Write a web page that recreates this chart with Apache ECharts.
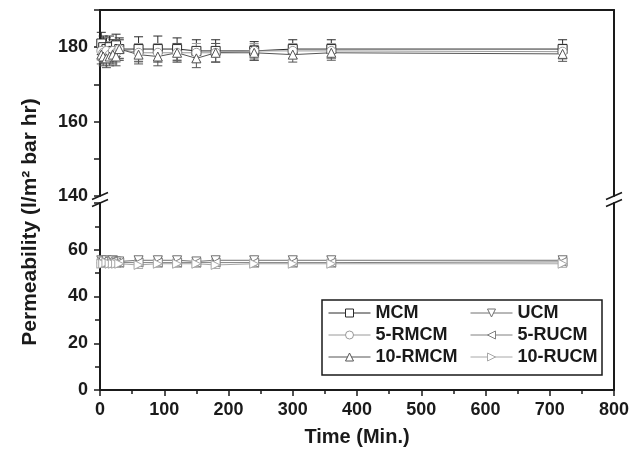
<!DOCTYPE html>
<html>
<head>
<meta charset="utf-8">
<script src="https://cdn.jsdelivr.net/npm/echarts@6/dist/echarts.min.js"></script>
<style>html,body{margin:0;padding:0;background:#fff}#c{width:643px;height:452px}</style>
</head>
<body>
<div id="c"></div>
<script>
// ---- data ----
const times = [2, 5, 10, 15, 20, 25, 30, 60, 90, 120, 150, 180, 240, 300, 360, 720];

const MCM      = [181, 180, 179.5, 180, 179, 180.5, 179.5, 179.5, 179.5, 179.5, 179, 179, 179, 179.5, 179.5, 179.5];
const RMCM5    = [179, 178.5, 179, 178, 179, 178.5, 179.5, 178.5, 178.5, 178.5, 178.5, 178.5, 179, 179, 179, 178.8];
const RMCM10   = [178, 177.5, 177, 177.5, 178, 177.5, 179.5, 178, 177.5, 178.5, 177, 178.5, 178.5, 178, 178.5, 178.2];
const MCM_err    = [3, 3, 3, 3, 3, 3, 3, 3.3, 3.5, 3, 3, 3, 2.5, 2.5, 2.5, 2.5];
const RMCM5_err  = [2.5, 2.5, 2.5, 2.5, 2.5, 2.5, 2.5, 2.5, 2.5, 2.5, 2.5, 2.5, 2, 2, 2, 2];
const RMCM10_err = [2.5, 2.5, 2.5, 2.5, 2.5, 2.5, 2.5, 2.5, 2.5, 2.5, 2.5, 2.5, 2, 2, 2, 2];

const UCM      = [55.5, 55, 55.5, 55, 55.5, 55, 55, 55.5, 55.5, 55.5, 55, 55.5, 55.5, 55.5, 55.5, 55.5];
const RUCM5    = [54.5, 55, 54.5, 54.5, 55, 54.5, 54.5, 54.5, 54.5, 54.5, 54.5, 54.5, 54.5, 54.5, 54.5, 54.8];
const RUCM10   = [54, 54, 54.5, 54, 54, 54, 54, 53.5, 54, 54, 54, 53.5, 54, 54, 54, 54];
const UCM_err    = [1.5, 1.5, 1.5, 1.5, 1.5, 1.5, 1.5, 1.5, 1.5, 1.5, 1.5, 1.5, 1.5, 1.5, 1.5, 1.5];
const RUCM5_err  = [1.5, 1.5, 1.5, 1.5, 1.5, 1.5, 1.5, 1.5, 1.5, 1.5, 1.5, 1.5, 1.5, 1.5, 1.5, 1.5];
const RUCM10_err = [1.5, 1.5, 1.5, 1.5, 1.5, 1.5, 1.5, 1.5, 1.5, 1.5, 1.5, 1.5, 1.5, 1.5, 1.5, 1.5];

const xTicks = [0, 100, 200, 300, 400, 500, 600, 700, 800];
const yTicksUpper = [140, 160, 180];
const yTicksLower = [0, 20, 40, 60];

// ---- styling ----
const FONT = '"Liberation Sans", Arial, sans-serif';
const AX = '#1a1a1a';
const DOWN = 'path://M0,0 L10,0 L5,9 Z';
const LEFT = 'path://M9,0 L9,10 L0,5 Z';
const RIGHT = 'path://M0,0 L0,10 L9,5 Z';

const defs = [
  {name: 'MCM',     vals: MCM,    err: MCM_err,    sym: 'rect',     col: '#2a2a2a', g: 0},
  {name: '5-RMCM',  vals: RMCM5,  err: RMCM5_err,  sym: 'circle',   col: '#9a9a9a', g: 0},
  {name: '10-RMCM', vals: RMCM10, err: RMCM10_err, sym: 'triangle', col: '#555555', g: 0},
  {name: 'UCM',     vals: UCM,    err: UCM_err,    sym: DOWN,       col: '#707070', g: 1},
  {name: '5-RUCM',  vals: RUCM5,  err: RUCM5_err,  sym: LEFT,       col: '#808080', g: 1},
  {name: '10-RUCM', vals: RUCM10, err: RUCM10_err, sym: RIGHT,      col: '#a8a8a8', g: 1}
];

const series = [];
defs.forEach(d => {
  const col = d.col;
  series.push({
    type: 'custom', name: d.name + '_err', silent: true,
    xAxisIndex: d.g === 0 ? 0 : 1, yAxisIndex: d.g === 0 ? 0 : 2, z: 1,
    data: times.map((t, i) => [t, d.vals[i], d.err[i]]),
    renderItem: function (params, api) {
      const x = api.value(0), y = api.value(1), e = api.value(2);
      const hi = api.coord([x, y + e]);
      const lo = api.coord([x, y - e]);
      const w = 4.5;
      const st = {stroke: col, lineWidth: 1};
      return {type: 'group', children: [
        {type: 'line', shape: {x1: hi[0], y1: hi[1], x2: lo[0], y2: lo[1]}, style: st},
        {type: 'line', shape: {x1: hi[0] - w, y1: hi[1], x2: hi[0] + w, y2: hi[1]}, style: st},
        {type: 'line', shape: {x1: lo[0] - w, y1: lo[1], x2: lo[0] + w, y2: lo[1]}, style: st}
      ]};
    }
  });
  series.push({
    type: 'line', name: d.name,
    xAxisIndex: d.g === 0 ? 0 : 1, yAxisIndex: d.g === 0 ? 0 : 2, z: 3,
    data: times.map((t, i) => [t, d.vals[i]]),
    symbol: d.sym, symbolSize: 9, showAllSymbol: true,
    lineStyle: {color: col, width: 1},
    itemStyle: {color: '#fff', borderColor: col, borderWidth: 1},
    emphasis: {disabled: true},
    animation: false
  });
});

const labelStyle = {fontFamily: FONT, fontWeight: 'bold', fontSize: 18, color: AX};
const legendCommon = {
  orient: 'vertical', itemWidth: 42, itemHeight: 10, itemGap: 4, padding: 0,
  textStyle: {fontFamily: FONT, fontWeight: 'bold', fontSize: 18, color: AX, lineHeight: 18},
  lineStyle: {width: 1},
  itemStyle: {borderWidth: 1},
  selectedMode: false
};

const LX = 100, RX = 614, UB = 196, LT = 203;
function slash(x, y) {
  return {type: 'line', z: 10, shape: {x1: x - 8, y1: y + 3.5, x2: x + 8, y2: y - 3.5}, style: {stroke: AX, lineWidth: 1.6}};
}

const option = {
  animation: false,
  backgroundColor: '#fff',
  grid: [
    {left: 100, right: 29, top: 10, height: 186},
    {left: 100, right: 29, top: 203, bottom: 62}
  ],
  xAxis: [
    {gridIndex: 0, type: 'value', min: 0, max: 800, position: 'top',
     axisLine: {show: true, lineStyle: {color: AX, width: 2}}, axisTick: {show: false},
     axisLabel: {show: false}, splitLine: {show: false}},
    {gridIndex: 1, type: 'value', min: 0, max: 800, interval: 100, position: 'bottom',
     axisLine: {show: true, onZero: false, lineStyle: {color: AX, width: 2}},
     axisTick: {show: true, inside: false, length: 6, lineStyle: {color: AX, width: 1.5}},
     minorTick: {show: true, splitNumber: 2, length: 4, lineStyle: {color: AX, width: 1.5}},
     axisLabel: Object.assign({margin: 11, formatter: v => xTicks.includes(v) ? String(v) : ''}, labelStyle),
     splitLine: {show: false},
     name: 'Time (Min.)', nameLocation: 'middle', nameGap: 37,
     nameTextStyle: {fontFamily: FONT, fontWeight: 'bold', fontSize: 20, color: AX}}
  ],
  yAxis: [
    {gridIndex: 0, type: 'value', min: 140, max: 190, interval: 10, position: 'left',
     axisLine: {show: true, onZero: false, lineStyle: {color: AX, width: 2}},
     axisTick: {show: true, inside: false, length: 6, lineStyle: {color: AX, width: 1.5}},
     axisLabel: Object.assign({margin: 12, formatter: v => yTicksUpper.includes(v) ? String(v) : ''}, labelStyle),
     splitLine: {show: false}},
    {gridIndex: 0, type: 'value', min: 140, max: 190, position: 'right',
     axisLine: {show: true, onZero: false, lineStyle: {color: AX, width: 2}},
     axisTick: {show: false}, axisLabel: {show: false}, splitLine: {show: false}},
    {gridIndex: 1, type: 'value', min: 0, max: 80, interval: 20, position: 'left',
     axisLine: {show: true, onZero: false, lineStyle: {color: AX, width: 2}},
     axisTick: {show: true, inside: false, length: 6, lineStyle: {color: AX, width: 1.5}},
     minorTick: {show: true, splitNumber: 2, length: 5, lineStyle: {color: AX, width: 1.5}},
     axisLabel: Object.assign({margin: 12, formatter: v => yTicksLower.includes(v) ? String(v) : ''}, labelStyle),
     splitLine: {show: false}},
    {gridIndex: 1, type: 'value', min: 0, max: 80, position: 'right',
     axisLine: {show: true, onZero: false, lineStyle: {color: AX, width: 2}},
     axisTick: {show: false}, axisLabel: {show: false}, splitLine: {show: false}}
  ],
  legend: [
    Object.assign({left: 328, top: 304, data: ['MCM', '5-RMCM', '10-RMCM']}, legendCommon),
    Object.assign({left: 470, top: 304, data: ['UCM', '5-RUCM', '10-RUCM']}, legendCommon)
  ],
  graphic: [
    {type: 'rect', z: 0, shape: {x: 322, y: 300, width: 280, height: 75},
     style: {fill: '#fff', stroke: AX, lineWidth: 1.5}},
    slash(LX, UB), slash(LX, LT),
    slash(RX, UB), slash(RX, LT),
    {type: 'text', z: 10, x: 30, y: 222, rotation: Math.PI / 2,
     style: {text: 'Permeability (l/m² bar hr)', fontFamily: FONT, fontWeight: 'bold', fontSize: 21,
             fill: AX, align: 'center', verticalAlign: 'middle'}}
  ],
  series: series
};

const chart = echarts.init(document.getElementById('c'), null, {renderer: 'canvas'});
chart.setOption(option);
</script>
</body>
</html>
